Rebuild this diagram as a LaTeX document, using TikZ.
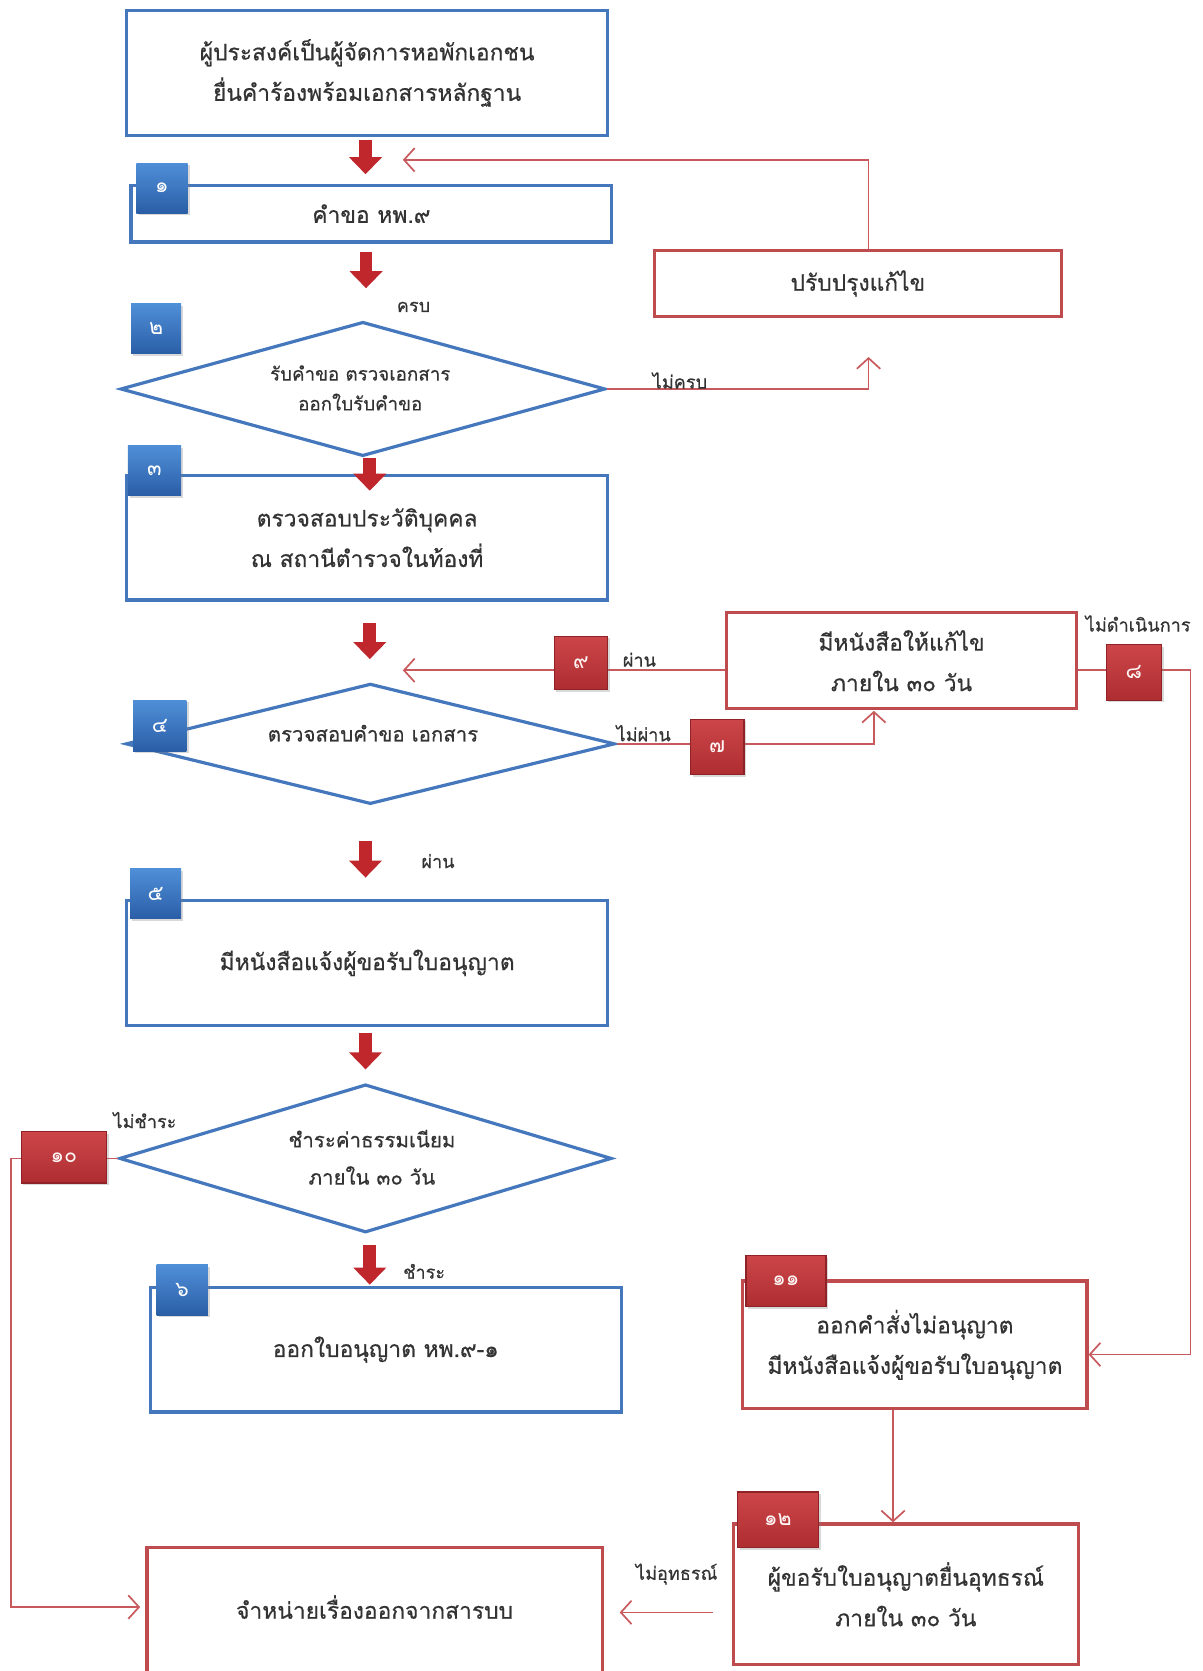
\documentclass[tikz,border=0pt]{standalone}
\usepackage{fontspec}
\newfontfamily\thaifont[Script=Thai,FakeBold=0.5]{Loma}
\newfontfamily\thaibadge[Script=Thai]{Loma}
\usetikzlibrary{arrows.meta,calc,shadows,shapes.geometric}
\definecolor{boxblue}{HTML}{4577BD}
\definecolor{boxred}{HTML}{BE4B4E}
\definecolor{linered}{HTML}{C85A5D}
\definecolor{arrowred}{HTML}{C0272D}
\definecolor{txt}{HTML}{333333}
\definecolor{bbtop}{HTML}{4F8FD8}
\definecolor{bbbot}{HTML}{2A5EA6}
\definecolor{rbtop}{HTML}{CC4649}
\definecolor{rbbot}{HTML}{AE2D31}
\definecolor{rbdraw}{HTML}{8E2226}
\begin{document}
\begin{tikzpicture}[x=0.5pt,y=-0.5pt,
  sz/.style 2 args={minimum width=#1*0.5pt,minimum height=#2*0.5pt},
  mainfont/.style={font=\thaifont\fontsize{10.7}{19}\selectfont, text=txt},
  bluebox/.style={draw=boxblue, line width=1.5pt, fill=white, inner sep=0pt, align=center, mainfont},
  redbox/.style={draw=boxred, line width=1.5pt, fill=white, inner sep=0pt, align=center, mainfont},
  decision/.style={draw=boxblue, line width=1.5pt, fill=white, shape=diamond, inner sep=0pt},
  dtext/.style={align=center, mainfont, inner sep=0pt},
  lbl/.style={font=\thaifont\fontsize{8.5}{10}\selectfont, text=txt, inner sep=0pt},
  bbadge/.style={top color=bbtop, bottom color=bbbot, draw=none, text=white, inner sep=0pt,
     font=\thaibadge\fontsize{10}{10}\selectfont, drop shadow={opacity=0.3,shadow xshift=1pt,shadow yshift=-1pt}},
  rbadge/.style={top color=rbtop, bottom color=rbbot, draw=rbdraw, line width=0.6pt, text=white!85!pink, inner sep=0pt,
     font=\thaibadge\fontsize{10}{10}\selectfont, drop shadow={opacity=0.3,shadow xshift=1pt,shadow yshift=-1pt}},
  thinred/.style={draw=linered, line width=0.8pt, -{Straight Barb[length=5pt,width=11pt,line width=0.8pt]}},
  bigarrow/.style={draw=arrowred, line width=6pt, -{Triangle[width=15pt,length=8pt]}}
]
\useasboundingbox (0,0) rectangle (1128,1568);

% ---------- boxes ----------
\node[bluebox, sz={451}{117}] (A) at (344.5,68.5) {ผู้ประสงค์เป็นผู้จัดการหอพักเอกชน\\ยื่นคำร้องพร้อมเอกสารหลักฐาน};
\node[bluebox, sz={451}{53}] (B1) at (348.5,200.5) {คำขอ หพ.๙};
\node[redbox, sz={382}{62}] (Fix) at (805,266) {ปรับปรุงแก้ไข};
\node[decision, sz={455}{126}, shape aspect=3.6] (D1) at (340.5,365) {};
\node[dtext, font=\thaifont\fontsize{8.8}{14}\selectfont] (D1t) at (338,364) {รับคำขอ ตรวจเอกสาร\\ออกใบรับคำขอ};
\node[bluebox, sz={451}{117}] (B3) at (344.5,504.5) {ตรวจสอบประวัติบุคคล\\ณ สถานีตำรวจในท้องที่};
\node[decision, sz={459}{113}, shape aspect=4.06] (D2) at (347.5,698) {};
\node[dtext, font=\thaifont\fontsize{9.6}{14}\selectfont] (D2t) at (350,688) {ตรวจสอบคำขอ เอกสาร};
\node[redbox, sz={328}{90}] (Corr) at (846,620) {มีหนังสือให้แก้ไข\\ภายใน ๓๐ วัน};
\node[bluebox, sz={451}{117}] (B5) at (344.5,903.5) {มีหนังสือแจ้งผู้ขอรับใบอนุญาต};
\node[decision, sz={462}{139}, shape aspect=3.32] (D3) at (343,1087) {};
\node[dtext, font=\thaifont\fontsize{9.6}{17.5}\selectfont] (D3t) at (349,1086) {ชำระค่าธรรมเนียม\\ภายใน ๓๐ วัน};
\node[bluebox, sz={442}{117}] (B6) at (362,1266.5) {ออกใบอนุญาต หพ.๙-๑};
\node[redbox, sz={323}{120}] (B11) at (858.5,1262) {ออกคำสั่งไม่อนุญาต\\มีหนังสือแจ้งผู้ขอรับใบอนุญาต};
\node[redbox, sz={324}{132}] (B12) at (850,1496) {ผู้ขอรับใบอนุญาตยื่นอุทธรณ์\\ภายใน ๓๐ วัน};
\node[redbox, sz={427}{140}] (B13) at (351.5,1522) {};
\node[dtext] (B13t) at (351.5,1508) {จำหน่ายเรื่องออกจากสารบบ};

% ---------- thin red connectors ----------
\coordinate (j1) at (378,150);
\draw[thinred] ($(Fix.north)+(10,0)$) |- (j1);
\coordinate (j2) at (815,335);
\draw[thinred] (D1.east) -| (j2);
\coordinate (j3) at (378,629);
\draw[thinred] (Corr.west |- j3) -- (j3);
\coordinate (j4) at (820,667);
\draw[thinred] (D2.east) -| (j4);
\coordinate (j5) at (1117,629);
\draw[thinred] (Corr.east |- j5) -- (j5) |- ($(B11.east)+(0,9)$);
\coordinate (j6) at (10,1087);
\draw[thinred, shorten >=2.5pt] (D3.west) -- (j6) |- (B13t.west -| B13.west);
\coordinate (k7) at ($(B11.south)+(-20.5,0)$);
\draw[thinred] (k7) -- (k7 |- B12.north);
\coordinate (k8) at ($(B12.west)+(0,17)$);
\draw[thinred, shorten <=8.5pt, shorten >=7.5pt] (k8) -- (B13.east |- k8);

% ---------- big red arrows ----------
\draw[bigarrow] ($(A.south)+(-1.5,3)$) -- ($(A.south |- B1.north)+(-1.5,-9)$);
\draw[bigarrow] ($(B1.south)+(-5,8)$) -- ($(B1.south |- D1.north)+(-5,-30)$);
\draw[bigarrow] ($(D1.south)+(6.5,0)$) -- ($(D1.south |- B3.north)+(6.5,16)$);
\draw[bigarrow] ($(B3.south)+(2.5,20)$) -- ($(B3.south |- D2.north)+(2.5,-21.5)$);
\draw[bigarrow] ($(D2.south)+(-4.5,33.5)$) -- ($(D2.south |- B5.north)+(-4.5,-20)$);
\draw[bigarrow] ($(B5.south)+(-1.5,6)$) -- ($(B5.south |- D3.north)+(-1.5,-12.5)$);
\draw[bigarrow] ($(D3.south)+(4,10.5)$) -- ($(D3.south |- B6.north)+(4,-1)$);

% ---------- labels ----------
\node[lbl] (l1) at (388,288) {ครบ};
\node[lbl] (l2) at (638,357) {ไม่ครบ};
\node[lbl] (l3) at (600,619) {ผ่าน};
\node[lbl] (l4) at (604,688) {ไม่ผ่าน};
\node[lbl] (l5) at (1068,585) {ไม่ดำเนินการ};
\node[lbl] (l6) at (411,808) {ผ่าน};
\node[lbl] (l7) at (136,1051) {ไม่ชำระ};
\node[lbl] (l8) at (398,1193) {ชำระ};
\node[lbl] (l9) at (635,1477) {ไม่อุทธรณ์};

% ---------- badges ----------
\node[bbadge, sz={48}{47}] (n1) at (152,176.5) {๑};
\node[bbadge, sz={47}{47}] (n2) at (146.5,308.5) {๒};
\node[bbadge, sz={50}{47}] (n3) at (145,441.5) {๓};
\node[bbadge, sz={50}{48}] (n4) at (150,681) {๔};
\node[bbadge, sz={48}{47}] (n5) at (146,838.5) {๕};
\node[bbadge, sz={48}{47}] (n6) at (171,1210.5) {๖};
\node[rbadge, sz={50}{52}] (n7) at (673,701) {๗};
\node[rbadge, sz={52}{52}] (n8) at (1064,631) {๘};
\node[rbadge, sz={50}{50}] (n9) at (545,622) {๙};
\node[rbadge, sz={80}{48}] (n10) at (60,1086) {๑๐};
\node[rbadge, sz={75}{48}] (n11) at (737.5,1202) {๑๑};
\node[rbadge, sz={76}{52}] (n12) at (730,1426) {๑๒};
\end{tikzpicture}
\end{document}
